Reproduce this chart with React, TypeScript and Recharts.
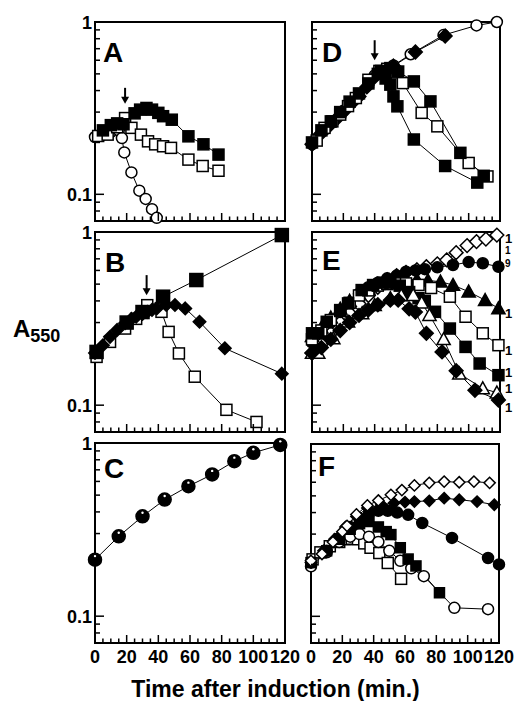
import React from 'react';
import { LineChart, Line, XAxis, YAxis, ReferenceDot } from 'recharts';

type Pt = { t: number; v: number };
type Shape = 'circle' | 'square' | 'diamond' | 'triangle' | 'circleDot';

const pts = (arr: number[][]): Pt[] => arr.map(([t, v]) => ({ t, v }));

// ---------- ticks ----------
const xTicks = [0, 5, 10, 15, 20, 25, 30, 35, 40, 45, 50, 55, 60, 65, 70, 75, 80, 85, 90, 95, 100, 105, 110, 115, 120];
const xLabelTicks = [0, 20, 40, 60, 80, 100, 120];
const yTicks = [0.08, 0.09, 0.1, 0.2, 0.3, 0.4, 0.5, 0.6, 0.7, 0.8, 0.9, 1];
const yLabelTicks = [0.1, 1];
const xDomain = [0, 120];
const yDomain = [0.07, 1];

// ---------- Panel A ----------
const aOpenCircles = pts([[0, 0.215], [5, 0.222], [10, 0.23], [15, 0.235], [17, 0.212], [18.5, 0.175], [23, 0.134], [28, 0.105], [32, 0.094], [36, 0.082], [39, 0.073]]);
const aOpenSquares = pts([[2, 0.218], [8, 0.222], [14, 0.245], [19, 0.277], [23, 0.243], [29, 0.222], [33.5, 0.203], [38, 0.195], [43, 0.19], [48, 0.186], [59, 0.159], [68, 0.146], [78, 0.137]]);
const aFilledSquares = pts([[5, 0.235], [10, 0.252], [14, 0.258], [18, 0.255], [25, 0.295], [28.5, 0.31], [32.5, 0.317], [36, 0.31], [40, 0.297], [43, 0.284], [48.5, 0.271], [59, 0.217], [68.5, 0.195], [78, 0.17]]);
const aArrow = { t: 19, v: 0.335 };

// ---------- Panel B ----------
const bOpenSquares = pts([[1, 0.19], [9.5, 0.232], [19, 0.277], [26, 0.315], [33, 0.378], [42, 0.346], [46.5, 0.265], [53, 0.199], [63, 0.146], [83, 0.094], [102, 0.08]]);
const bFilledDiamonds = pts([[0, 0.2], [5, 0.222], [9.5, 0.248], [14, 0.272], [19, 0.297], [23, 0.315], [26, 0.324], [30, 0.336], [33, 0.346], [36, 0.355], [39, 0.362], [45, 0.379], [50.5, 0.379], [57, 0.362], [66, 0.303], [82, 0.213], [118, 0.152]]);
const bFilledSquares = pts([[1, 0.203], [20, 0.3], [30, 0.345], [43, 0.423], [64, 0.528], [118, 0.96]]);
const bArrow = { t: 32.6, v: 0.432 };

// ---------- Panel C ----------
const cCircles = pts([[0, 0.212], [15, 0.289], [30, 0.377], [44, 0.471], [59, 0.563], [74, 0.658], [88, 0.785], [100, 0.878], [117, 0.975]]);

// ---------- Panel D ----------
const dGrowthCircles = pts([[0, 0.195], [20, 0.305], [40, 0.49], [52, 0.56], [63, 0.65], [84, 0.84], [105, 0.955], [118, 1.0]]);
const dGrowthDiamonds = pts([[0, 0.195], [5, 0.222], [10, 0.245], [15, 0.27], [20, 0.3], [25, 0.335], [30, 0.37], [35, 0.42], [40, 0.48], [45, 0.52], [52, 0.555], [66, 0.67], [85, 0.83]]);
const dSteepSquares = pts([[0, 0.2], [6, 0.235], [12, 0.265], [18, 0.3], [24, 0.345], [30, 0.385], [36, 0.44], [42, 0.5], [47, 0.47], [50, 0.433], [52, 0.37], [54.5, 0.324], [65, 0.208], [85, 0.146], [105.5, 0.117]]);
const dOpenSquares = pts([[3, 0.205], [8, 0.243], [13, 0.265], [18, 0.29], [23, 0.325], [28, 0.362], [36, 0.462], [43, 0.52], [48, 0.535], [53, 0.51], [58, 0.442], [70, 0.297], [80, 0.248], [100, 0.152], [112, 0.127]]);
const dMidSquares = pts([[44, 0.52], [50, 0.54], [55, 0.516], [65, 0.452], [75.6, 0.346], [94.7, 0.174], [109.6, 0.128]]);
const dArrow = { t: 40, v: 0.6 };

// ---------- Panel E ----------
const eOpenDiamonds = pts([[0, 0.2], [6, 0.225], [12, 0.26], [18, 0.3], [24, 0.34], [30, 0.385], [36, 0.43], [42, 0.48], [48, 0.53], [54, 0.56], [60, 0.585], [67, 0.605], [73, 0.63], [80, 0.655], [86, 0.69], [92, 0.76], [99, 0.835], [105, 0.88], [111, 0.91], [118, 0.96]]);
const eFilledCircles = pts([[0, 0.23], [6, 0.26], [12, 0.3], [18, 0.345], [24, 0.39], [30, 0.44], [36, 0.48], [42, 0.51], [48, 0.54], [54, 0.56], [60, 0.59], [66, 0.6], [72, 0.61], [80, 0.625], [90, 0.645], [100, 0.67], [109, 0.66], [119, 0.63]]);
const eFilledTriangles = pts([[0, 0.25], [6, 0.28], [12, 0.32], [18, 0.36], [24, 0.4], [30, 0.44], [36, 0.47], [42, 0.5], [48, 0.515], [54, 0.525], [60, 0.53], [67, 0.53], [74, 0.525], [82, 0.516], [90, 0.494], [100, 0.452], [110.5, 0.404], [119, 0.362]]);
const eOpenSquares = pts([[0, 0.24], [6, 0.27], [12, 0.31], [18, 0.35], [24, 0.39], [30, 0.43], [36, 0.46], [42, 0.49], [48, 0.5], [54, 0.505], [60, 0.505], [68, 0.495], [76, 0.475], [88, 0.423], [98, 0.324], [109, 0.26], [119, 0.222]]);
const eFilledSquares = pts([[0, 0.26], [4, 0.26], [9.4, 0.303], [18, 0.354], [23, 0.387], [31.7, 0.462], [39, 0.494], [45, 0.51], [50, 0.51], [56, 0.49], [62, 0.45], [68, 0.415], [72, 0.4], [78.5, 0.346], [88, 0.277], [98, 0.217], [107, 0.174], [119, 0.149]]);
const eOpenTriangles = pts([[0, 0.2], [4, 0.2], [13.6, 0.243], [23, 0.303], [32, 0.339], [40, 0.378], [50, 0.414], [57, 0.43], [64.6, 0.432], [70, 0.39], [75, 0.331], [84, 0.24], [94, 0.152], [109, 0.125], [118, 0.118]]);
const eFilledDiamonds = pts([[0, 0.2], [6, 0.215], [12, 0.24], [18, 0.27], [24, 0.3], [30, 0.33], [36, 0.355], [42, 0.38], [50, 0.404], [55, 0.404], [62, 0.36], [66, 0.345], [73, 0.26], [83, 0.203], [92, 0.158], [104, 0.122], [119, 0.107]]);
const eRightLabelTexts = ['1', '1', '9', '1', '1', '1', '1', '1'];
const eRightLabelValues = [0.923, 0.787, 0.655, 0.34, 0.208, 0.155, 0.125, 0.097];

// ---------- Panel F ----------
const fOpenDiamonds = pts([[0, 0.21], [7, 0.23], [14, 0.27], [20, 0.31], [23, 0.335], [29, 0.39], [36, 0.44], [43, 0.47], [51, 0.507], [58, 0.54], [66, 0.575], [75.5, 0.595], [85, 0.605], [94.6, 0.6], [104, 0.605], [114, 0.595]]);
const fFilledDiamonds = pts([[0, 0.205], [8, 0.24], [15, 0.28], [22, 0.33], [29, 0.38], [36, 0.425], [45, 0.444], [53, 0.454], [60, 0.46], [66, 0.463], [75.5, 0.468], [85, 0.485], [94.6, 0.475], [106, 0.463], [117, 0.444]]);
const fFilledCircles = pts([[0, 0.205], [10, 0.24], [18, 0.285], [25, 0.33], [31, 0.37], [37, 0.395], [43, 0.41], [49, 0.41], [55, 0.4], [62, 0.388], [71, 0.348], [90, 0.285], [113, 0.218], [120, 0.2]]);
const fFilledSquares = pts([[0, 0.205], [10, 0.24], [18, 0.28], [25, 0.32], [31, 0.345], [37, 0.355], [43, 0.33], [48, 0.31], [51, 0.298], [57, 0.25], [62, 0.215], [67, 0.196], [82, 0.137]]);
const fOpenCircles = pts([[0, 0.195], [10, 0.235], [18, 0.27], [25, 0.29], [31, 0.3], [37, 0.29], [43, 0.27], [50, 0.24], [57, 0.21], [64, 0.19], [72, 0.171], [91.5, 0.112], [113, 0.11]]);
const fOpenSquares = pts([[1, 0.214], [6, 0.235], [12, 0.255], [18, 0.27], [22, 0.28], [26, 0.282], [30, 0.28], [34, 0.265], [38, 0.25], [43.6, 0.233], [49, 0.204], [57.5, 0.165]]);

// ---------- rendering helpers ----------
const FONT = '"Liberation Sans", Arial, Helvetica, sans-serif';
const BLACK = '#000';

function makeDot(shape: Shape, filled: boolean, size: number) {
  return (p: any) => {
    const { cx, cy, index } = p;
    const k = `dot-${index}`;
    if (cx == null || cy == null || isNaN(cx) || isNaN(cy)) return <g key={k} />;
    const fill = filled ? BLACK : '#fff';
    const h = size / 2;
    const common = { fill, stroke: BLACK, strokeWidth: 1.5 };
    if (shape === 'circle') return <circle key={k} cx={cx} cy={cy} r={h} {...common} />;
    if (shape === 'circleDot')
      return (
        <g key={k}>
          <circle cx={cx} cy={cy} r={h} fill={BLACK} stroke={BLACK} strokeWidth={1.5} />
          <circle cx={cx} cy={cy - h * 0.55} r={1.2} fill="#fff" />
        </g>
      );
    if (shape === 'square') return <rect key={k} x={cx - h} y={cy - h} width={size} height={size} {...common} />;
    if (shape === 'diamond') {
      const d = h * 1.25;
      return <polygon key={k} points={`${cx},${cy - d} ${cx + d},${cy} ${cx},${cy + d} ${cx - d},${cy}`} {...common} />;
    }
    const t = h * 1.2;
    return <polygon key={k} points={`${cx},${cy - t} ${cx + t},${cy + t * 0.8} ${cx - t},${cy + t * 0.8}`} {...common} />;
  };
}

const isMajorX = (v: number) => xLabelTicks.indexOf(v) >= 0;
const isMajorY = (v: number) => yLabelTicks.some((m) => Math.abs(m - v) < 1e-9);
const tickLine = { stroke: BLACK, strokeWidth: 1.5 };

const bottomTick = (show: boolean) => (p: any) => {
  const { x, y, payload } = p;
  const v = payload.value;
  const m = isMajorX(v);
  return (
    <g>
      <line x1={x} x2={x} y1={y} y2={y - (m ? 8 : 4.5)} {...tickLine} />
      {show && m && (
        <text x={x} y={y + 20} textAnchor="middle" fontSize={18} fontWeight="bold" fontFamily={FONT} fill={BLACK}>
          {v}
        </text>
      )}
    </g>
  );
};
const topTick = (p: any) => {
  const { x, y, payload } = p;
  const m = isMajorX(payload.value);
  return <line x1={x} x2={x} y1={y} y2={y + (m ? 8 : 4.5)} {...tickLine} />;
};
const leftTick = (show: boolean) => (p: any) => {
  const { x, y, payload } = p;
  const v = payload.value;
  const m = isMajorY(v);
  return (
    <g>
      <line x1={x} x2={x + (m ? 9 : 5)} y1={y} y2={y} {...tickLine} />
      {show && m && (
        <text x={x - 3} y={y + 7} textAnchor="end" fontSize={18} fontWeight="bold" fontFamily={FONT} fill={BLACK}>
          {String(v)}
        </text>
      )}
    </g>
  );
};
const rightTick = (p: any) => {
  const { x, y, payload } = p;
  const m = isMajorY(payload.value);
  return <line x1={x} x2={x - (m ? 9 : 5)} y1={y} y2={y} {...tickLine} />;
};

const ArrowShape = (cx: number, cy: number, len: number) => (
  <g>
    <line x1={cx} x2={cx} y1={cy - len} y2={cy - 5} stroke={BLACK} strokeWidth={2} />
    <polygon points={`${cx - 4},${cy - 7} ${cx + 4},${cy - 7} ${cx},${cy}`} fill={BLACK} />
  </g>
);

type SeriesCfg = { data: Pt[]; shape: Shape; filled: boolean; size?: number };
type PanelProps = {
  plot: { x: number; y: number; w: number; h: number };
  box: { x: number; y: number; w: number; h: number };
  series: SeriesCfg[];
  showX: boolean;
  showY: boolean;
  arrow?: { t: number; v: number };
  arrowLen?: number;
  rightTexts?: string[];
  rightValues?: number[];
};

function Panel({ plot, box, series, showX, showY, arrow, arrowLen = 18, rightTexts, rightValues }: PanelProps) {
  const margin = {
    left: plot.x - box.x - 2,
    top: plot.y - box.y - 2,
    right: box.x + box.w - (plot.x + plot.w) - 2,
    bottom: box.y + box.h - (plot.y + plot.h) - 2,
  };
  const frame = { stroke: BLACK, strokeWidth: 2, strokeLinecap: 'square' as const };
  return (
    <div style={{ position: 'absolute', left: box.x, top: box.y }}>
      <LineChart width={box.w} height={box.h} margin={margin}>
        <XAxis type="number" dataKey="t" domain={xDomain} ticks={xTicks} interval={0} height={2} tickSize={0} tickMargin={0} tickLine={false} axisLine={frame} tick={bottomTick(showX)} allowDecimals />
        <XAxis xAxisId="top" orientation="top" type="number" dataKey="t" domain={xDomain} ticks={xTicks} interval={0} height={2} tickSize={0} tickMargin={0} tickLine={false} axisLine={frame} tick={topTick} />
        <YAxis type="number" scale="log" domain={yDomain} ticks={yTicks} interval={0} width={2} tickSize={0} tickMargin={0} tickLine={false} axisLine={frame} tick={leftTick(showY)} />
        <YAxis yAxisId="right" orientation="right" type="number" scale="log" domain={yDomain} ticks={yTicks} interval={0} width={2} tickSize={0} tickMargin={0} tickLine={false} axisLine={frame} tick={rightTick} />
        {series.map((s, i) => (
          <Line
            key={i}
            data={s.data}
            dataKey="v"
            type="linear"
            stroke={BLACK}
            strokeWidth={1}
            dot={makeDot(s.shape, s.filled, s.size ?? 11)}
            activeDot={false}
            isAnimationActive={false}
            legendType="none"
          />
        ))}
        {arrow && (
          <ReferenceDot x={arrow.t} y={arrow.v} r={0} ifOverflow="visible" shape={(p: any) => ArrowShape(p.cx, p.cy, arrowLen)} />
        )}
        {rightTexts &&
          rightValues &&
          rightTexts.map((txt, i) => {
            const small = i === 1 || i === 2;
            return (
              <ReferenceDot
                key={`rl-${i}`}
                x={120}
                y={rightValues[i]}
                r={0}
                ifOverflow="visible"
                shape={(p: any) => (
                  <text x={p.cx + 5} y={p.cy + (small ? 3.5 : 4.5)} fontSize={small ? 10 : 13} fontWeight="bold" fontFamily={FONT} fill={BLACK}>
                    {txt}
                  </text>
                )}
              />
            );
          })}
      </LineChart>
    </div>
  );
}

const leftBox = (y: number, h: number) => ({ x: 0, y, w: 300, h });
const rightBox = (y: number, h: number) => ({ x: 300, y, w: 214, h });

export default function App() {
  const letter = (txt: string, x: number, y: number) => (
    <text x={x} y={y} fontSize={28} fontWeight="bold" fontFamily={FONT} fill={BLACK}>
      {txt}
    </text>
  );
  return (
    <div style={{ position: 'absolute', left: 0, top: 0, width: 514, height: 701, background: '#fff', overflow: 'hidden' }}>
      <Panel
        plot={{ x: 95, y: 22, w: 190, h: 199 }}
        box={leftBox(0, 227)}
        showX={false}
        showY
        arrow={aArrow}
        arrowLen={16}
        series={[
          { data: aOpenCircles, shape: 'circle', filled: false },
          { data: aOpenSquares, shape: 'square', filled: false },
          { data: aFilledSquares, shape: 'square', filled: true },
        ]}
      />
      <Panel
        plot={{ x: 95, y: 232, w: 190, h: 200 }}
        box={leftBox(218, 222)}
        showX={false}
        showY
        arrow={bArrow}
        arrowLen={20}
        series={[
          { data: bOpenSquares, shape: 'square', filled: false },
          { data: bFilledDiamonds, shape: 'diamond', filled: true, size: 10 },
          { data: bFilledSquares, shape: 'square', filled: true, size: 13 },
        ]}
      />
      <Panel
        plot={{ x: 95, y: 443, w: 190, h: 200 }}
        box={leftBox(430, 241)}
        showX
        showY
        series={[{ data: cCircles, shape: 'circleDot', filled: true, size: 13 }]}
      />
      <Panel
        plot={{ x: 312, y: 22, w: 188, h: 199 }}
        box={rightBox(0, 227)}
        showX={false}
        showY={false}
        arrow={dArrow}
        arrowLen={20}
        series={[
          { data: dGrowthCircles, shape: 'circle', filled: false },
          { data: dGrowthDiamonds, shape: 'diamond', filled: true },
          { data: dOpenSquares, shape: 'square', filled: false },
          { data: dMidSquares, shape: 'square', filled: true },
          { data: dSteepSquares, shape: 'square', filled: true },
        ]}
      />
      <Panel
        plot={{ x: 312, y: 232, w: 188, h: 200 }}
        box={rightBox(218, 222)}
        showX={false}
        showY={false}
        rightTexts={eRightLabelTexts}
        rightValues={eRightLabelValues}
        series={[
          { data: eOpenDiamonds, shape: 'diamond', filled: false },
          { data: eFilledCircles, shape: 'circle', filled: true },
          { data: eFilledTriangles, shape: 'triangle', filled: true },
          { data: eOpenSquares, shape: 'square', filled: false },
          { data: eFilledSquares, shape: 'square', filled: true },
          { data: eOpenTriangles, shape: 'triangle', filled: false },
          { data: eFilledDiamonds, shape: 'diamond', filled: true },
        ]}
      />
      <Panel
        plot={{ x: 311, y: 444, w: 188, h: 199 }}
        box={rightBox(430, 241)}
        showX
        showY={false}
        series={[
          { data: fOpenSquares, shape: 'square', filled: false },
          { data: fOpenCircles, shape: 'circle', filled: false },
          { data: fFilledSquares, shape: 'square', filled: true, size: 10 },
          { data: fFilledCircles, shape: 'circle', filled: true },
          { data: fFilledDiamonds, shape: 'diamond', filled: true, size: 9 },
          { data: fOpenDiamonds, shape: 'diamond', filled: false, size: 9 },
        ]}
      />
      <svg width={514} height={701} style={{ position: 'absolute', left: 0, top: 0, pointerEvents: 'none' }}>
        {letter('A', 103, 62)}
        {letter('B', 105, 272)}
        {letter('C', 104, 478)}
        {letter('D', 322, 62)}
        {letter('E', 322, 270)}
        {letter('F', 318, 476)}
        <text x={13} y={337} fontSize={24} fontWeight="bold" fontFamily={FONT} fill={BLACK}>
          A<tspan fontSize={18} dy={5}>550</tspan>
        </text>
        <text x={275.5} y={697} textAnchor="middle" fontSize={23} fontWeight="bold" fontFamily={FONT} fill={BLACK}>
          Time after induction (min.)
        </text>
      </svg>
    </div>
  );
}
